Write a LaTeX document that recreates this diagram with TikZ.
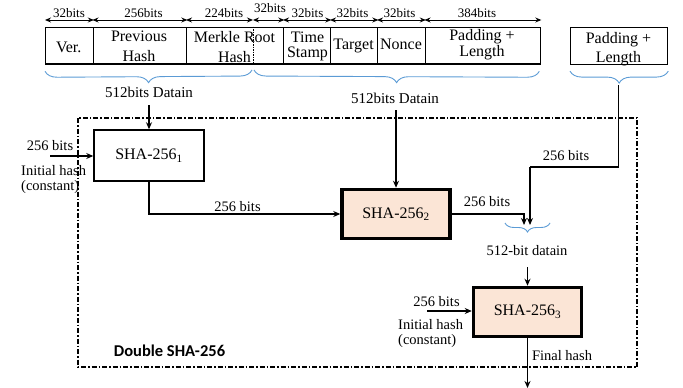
\documentclass[tikz,border=0pt]{standalone}
\usepackage{fontspec}
\setmainfont{Liberation Serif}
\newfontfamily\calibri{Carlito}
\usetikzlibrary{arrows.meta,decorations.pathreplacing}
\definecolor{peach}{HTML}{FBE5D6}
\definecolor{braceblue}{HTML}{5B9BD5}
\begin{document}
\begin{tikzpicture}[x=1pt,y=-1pt,
  cell/.style={draw, line width=1.3pt, minimum height=36.8pt, inner sep=0, anchor=north west},
  lbl/.style={inner sep=0, anchor=base},
  hd/.style={lbl, font=\fontsize{16}{16}\selectfont},
  hdtwo/.style={lbl, align=center, font=\fontsize{16}{#1}\selectfont},
  dl/.style={lbl, font=\fontsize{13}{13}\selectfont},
  tx/.style={lbl, font=\fontsize{14.5}{14.5}\selectfont},
  txtwo/.style={inner sep=0, anchor=base west, align=left, font=\fontsize{14.5}{15.5}\selectfont},
  dimarrow/.style={line width=1pt, {Stealth[length=6pt,width=5pt]}-{Stealth[length=6pt,width=5pt]}},
  bracedeco/.style={draw=braceblue, line width=0.9pt, decorate, decoration={brace, mirror, amplitude=12pt}},
  conn/.style={line width=1.6pt, -{Stealth[length=7pt,width=6pt]}},
  shawhite/.style={draw, line width=1.5pt, fill=white, minimum width=110pt, minimum height=51pt, font=\fontsize{16}{16}\selectfont},
  shapeach/.style={draw, line width=3.5pt, fill=peach, minimum width=108pt, minimum height=49pt, font=\fontsize{16}{16}\selectfont}]
\useasboundingbox (0,0) rectangle (683,388);

% header cells
\node[cell, minimum width=47.5pt] (ver) at (45,26.5) {};
\node[cell, minimum width=93.5pt] (prev) at (92.5,26.5) {};
\node[cell, minimum width=97pt] (merkle) at (186,26.5) {};
\node[cell, minimum width=47pt] (time) at (283,26.5) {};
\node[cell, minimum width=47pt] (target) at (330,26.5) {};
\node[cell, minimum width=47.5pt] (nonce) at (377,26.5) {};
\node[cell, minimum width=115.5pt] (pad) at (424.5,26.5) {};
\node[cell, minimum width=97pt] (pad2) at (570,27) {};
\coordinate (mtop) at (253,26.5);
\coordinate (mbot) at (253,63.3);
\draw[line width=0.8pt, dash pattern=on 1.5pt off 1pt] (mtop) -- (mbot);

% header texts (base = baseline of last line)
\node[hd] (tver) at (68.75,52.7) {Ver.};
\node[hdtwo=20] (tprev) at (139,61.7) {Previous\\Hash};
\node[hdtwo=20] (tmer) at (234.5,62) {Merkle Root\\Hash};
\node[hdtwo=15] (ttime) at (307.5,57.5) {Time\\Stamp};
\node[hd] (ttarget) at (353.5,49) {Target};
\node[hd] (tnonce) at (401,49) {Nonce};
\node[hdtwo=14.5] (tpad) at (482,56.5) {Padding +\\Length};
\node[hdtwo=19] (tpadb) at (618.5,62) {Padding +\\Length};

% dimension arrows
\draw[dimarrow] ([yshift=6.5pt]ver.north west) -- ([yshift=6.5pt]ver.north east);
\draw[dimarrow] ([yshift=6.5pt]prev.north west) -- ([yshift=6.5pt]prev.north east);
\draw[dimarrow] ([yshift=6.5pt]merkle.north west) -- ([yshift=6.5pt]mtop);
\draw[dimarrow] ([yshift=6.5pt]mtop) -- ([yshift=6.5pt]merkle.north east);
\draw[dimarrow] ([yshift=6.5pt]time.north west) -- ([yshift=6.5pt]time.north east);
\draw[dimarrow] ([yshift=6.5pt]target.north west) -- ([yshift=6.5pt]target.north east);
\draw[dimarrow] ([yshift=6.5pt]nonce.north west) -- ([yshift=6.5pt]nonce.north east);
\draw[dimarrow] ([yshift=6.5pt]pad.north west) -- ([yshift=6.5pt]pad.north east);
\node[dl] (d1) at (69,17) {32bits};
\node[dl] (d2) at (143.5,17) {256bits};
\node[dl] (d3) at (224,17) {224bits};
\node[dl] (d4) at (270,12.7) {32bits};
\node[dl] (d5) at (307.5,17) {32bits};
\node[dl] (d6) at (352.5,17) {32bits};
\node[dl] (d7) at (399.5,17) {32bits};
\node[dl] (d8) at (477,17) {384bits};

% braces
\draw[bracedeco] ([yshift=-6.7pt]ver.south west) -- ([yshift=-6.7pt,xshift=-1pt]mbot);
\draw[bracedeco] ([yshift=-6.7pt,xshift=1pt]mbot) -- ([yshift=-6.7pt,xshift=-2pt]pad.south east);
\draw[bracedeco] ([yshift=-6pt]pad2.south west) -- ([yshift=-6pt]pad2.south east);
\node[lbl, font=\fontsize{15}{15}\selectfont] (din1) at (149,97) {512bits Datain};
\node[lbl, font=\fontsize{15}{15}\selectfont] (din2) at (395,103) {512bits Datain};

% dash-dot box
\draw[line width=1.3pt, dash pattern=on 5pt off 2pt on 1.5pt off 2pt] (78,118) rectangle (637,367);
\node[lbl, font=\calibri\bfseries\fontsize{16.5}{16.5}\selectfont] (dbl) at (169.5,356) {Double SHA-256};

% SHA blocks
\node[shawhite] (sha1) at (149,155.5) {SHA-256\textsubscript{1}};
\node[shapeach] (sha2) at (396,214) {SHA-256\textsubscript{2}};
\node[shapeach] (sha3) at (527.5,312) {SHA-256\textsubscript{3}};

% inputs to SHA1
\coordinate (a1) at (149,105);
\draw[conn] (a1) -- (sha1.north);
\coordinate (i1) at (50,156);
\draw[conn] (i1) -- (i1 -| sha1.west);
\node[tx] (l1a) at (50,150) {256 bits};
\node[txtwo] (l1b) at (21,190.5) {Initial hash\\(constant)};

% SHA1 -> SHA2
\draw[conn] (sha1.south) |- (sha2.west);
\node[tx] (l2) at (237.5,211) {256 bits};

% datain -> SHA2
\coordinate (a2) at (396,110);
\draw[conn] (a2) -- (sha2.north);

% SHA2 out
\coordinate (j1) at (524,225);
\coordinate (j2) at (530,225);
\draw[conn] (sha2.east) -| (j1);
\node[tx] (l3) at (487,206) {256 bits};

% padding path
\coordinate (rb) at (618.5,85);
\coordinate (k) at (530,167);
\draw[line width=1.6pt] (rb) |- (k);
\draw[conn] (k) -- (j2);
\node[tx] (l4) at (566,160) {256 bits};

% small brace
\draw[bracedeco, decoration={brace, mirror, amplitude=9pt}] (505,223) -- (550,223);
\node[tx] (l5) at (527,255) {512-bit datain};
\coordinate (a3) at (527.5,267);
\draw[conn] (a3) -- (sha3.north);

% inputs SHA3
\coordinate (i3) at (427,311);
\draw[conn] (i3) -- (i3 -| sha3.west);
\node[tx] (l6a) at (436.5,306) {256 bits};
\node[txtwo] (l6b) at (398,344.5) {Initial hash\\(constant)};

% output
\coordinate (o3) at (527.5,388);
\draw[conn] (sha3.south) -- (o3);
\node[tx] (l7) at (562,360) {Final hash};
\end{tikzpicture}
\end{document}
